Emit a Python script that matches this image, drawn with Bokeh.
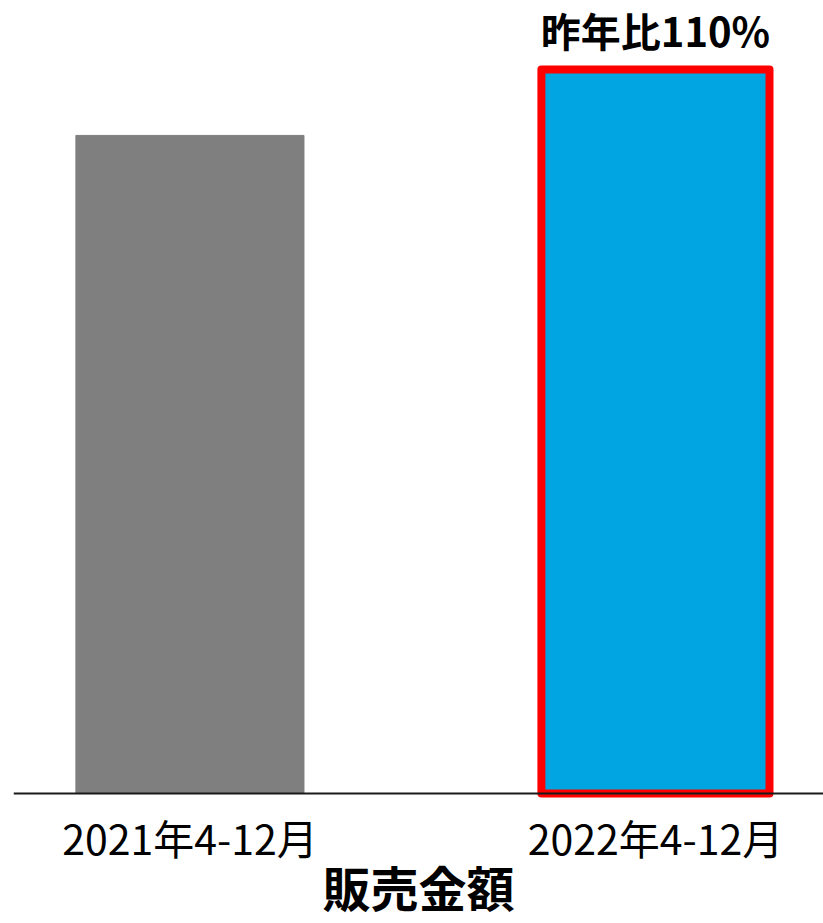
from bokeh.plotting import figure
from bokeh.models import Range1d, FixedTicker, ColumnDataSource, Span
from bokeh.core.properties import value
from bokeh.embed import file_html
from bokeh.resources import INLINE

# Data
periods = ["2021年4-12月", "2022年4-12月"]
sales = [100, 110]
colors = ["#7F7F7F", "#00A5E2"]
ratio_label = f"昨年比{round(sales[1] / sales[0] * 100)}%"

x_pos = list(range(len(periods)))
bar_w = 0.49

p = figure(width=823, height=923, output_backend="svg", toolbar_location=None,
           x_range=Range1d(-0.379, 1.361), y_range=Range1d(-1.06, 120.5),
           min_border_left=13, min_border_right=0, min_border_top=0,
           min_border_bottom=0)
p.outline_line_color = None
p.grid.visible = False
p.yaxis.visible = False
p.background_fill_color = "white"
p.border_fill_color = "white"

src = ColumnDataSource(dict(x=x_pos, top=sales, color=colors))
p.vbar(x="x", top="top", width=bar_w, bottom=0, color="color", source=src)

# highlight frame around the current period
p.quad(left=[x_pos[1] - bar_w / 2], right=[x_pos[1] + bar_w / 2],
       bottom=[0], top=[sales[1]], fill_color=None, line_color="#FF0000",
       line_width=8, line_join="round")

# baseline
p.add_layout(Span(location=0, dimension="width", line_color="#1a1a1a", line_width=2))

p.text(x=[x_pos[1]], y=[sales[1]], text=[ratio_label], text_align="center",
       text_baseline="alphabetic", y_offset=-40, text_font=value("Noto Sans CJK JP"),
       text_font_style="bold", text_font_size="40px", text_color="black")

ax = p.xaxis[0]
ax.ticker = FixedTicker(ticks=x_pos)
ax.major_label_overrides = {i: s for i, s in enumerate(periods)}
ax.axis_line_color = None
ax.major_tick_line_color = None
ax.minor_tick_line_color = None
ax.major_tick_out = 0
ax.major_tick_in = 0
ax.major_label_standoff = 6
ax.major_label_text_font = "Noto Sans CJK JP"
ax.major_label_text_font_size = "41px"
ax.major_label_text_color = "black"
ax.axis_label = "販売金額"
ax.axis_label_text_font = "Noto Sans CJK JP"
ax.axis_label_text_font_style = "bold"
ax.axis_label_text_font_size = "48px"
ax.axis_label_text_baseline = "bottom"
ax.axis_label_text_color = "black"
ax.axis_label_standoff = -19

open("out.html", "w").write(file_html(p, INLINE))
